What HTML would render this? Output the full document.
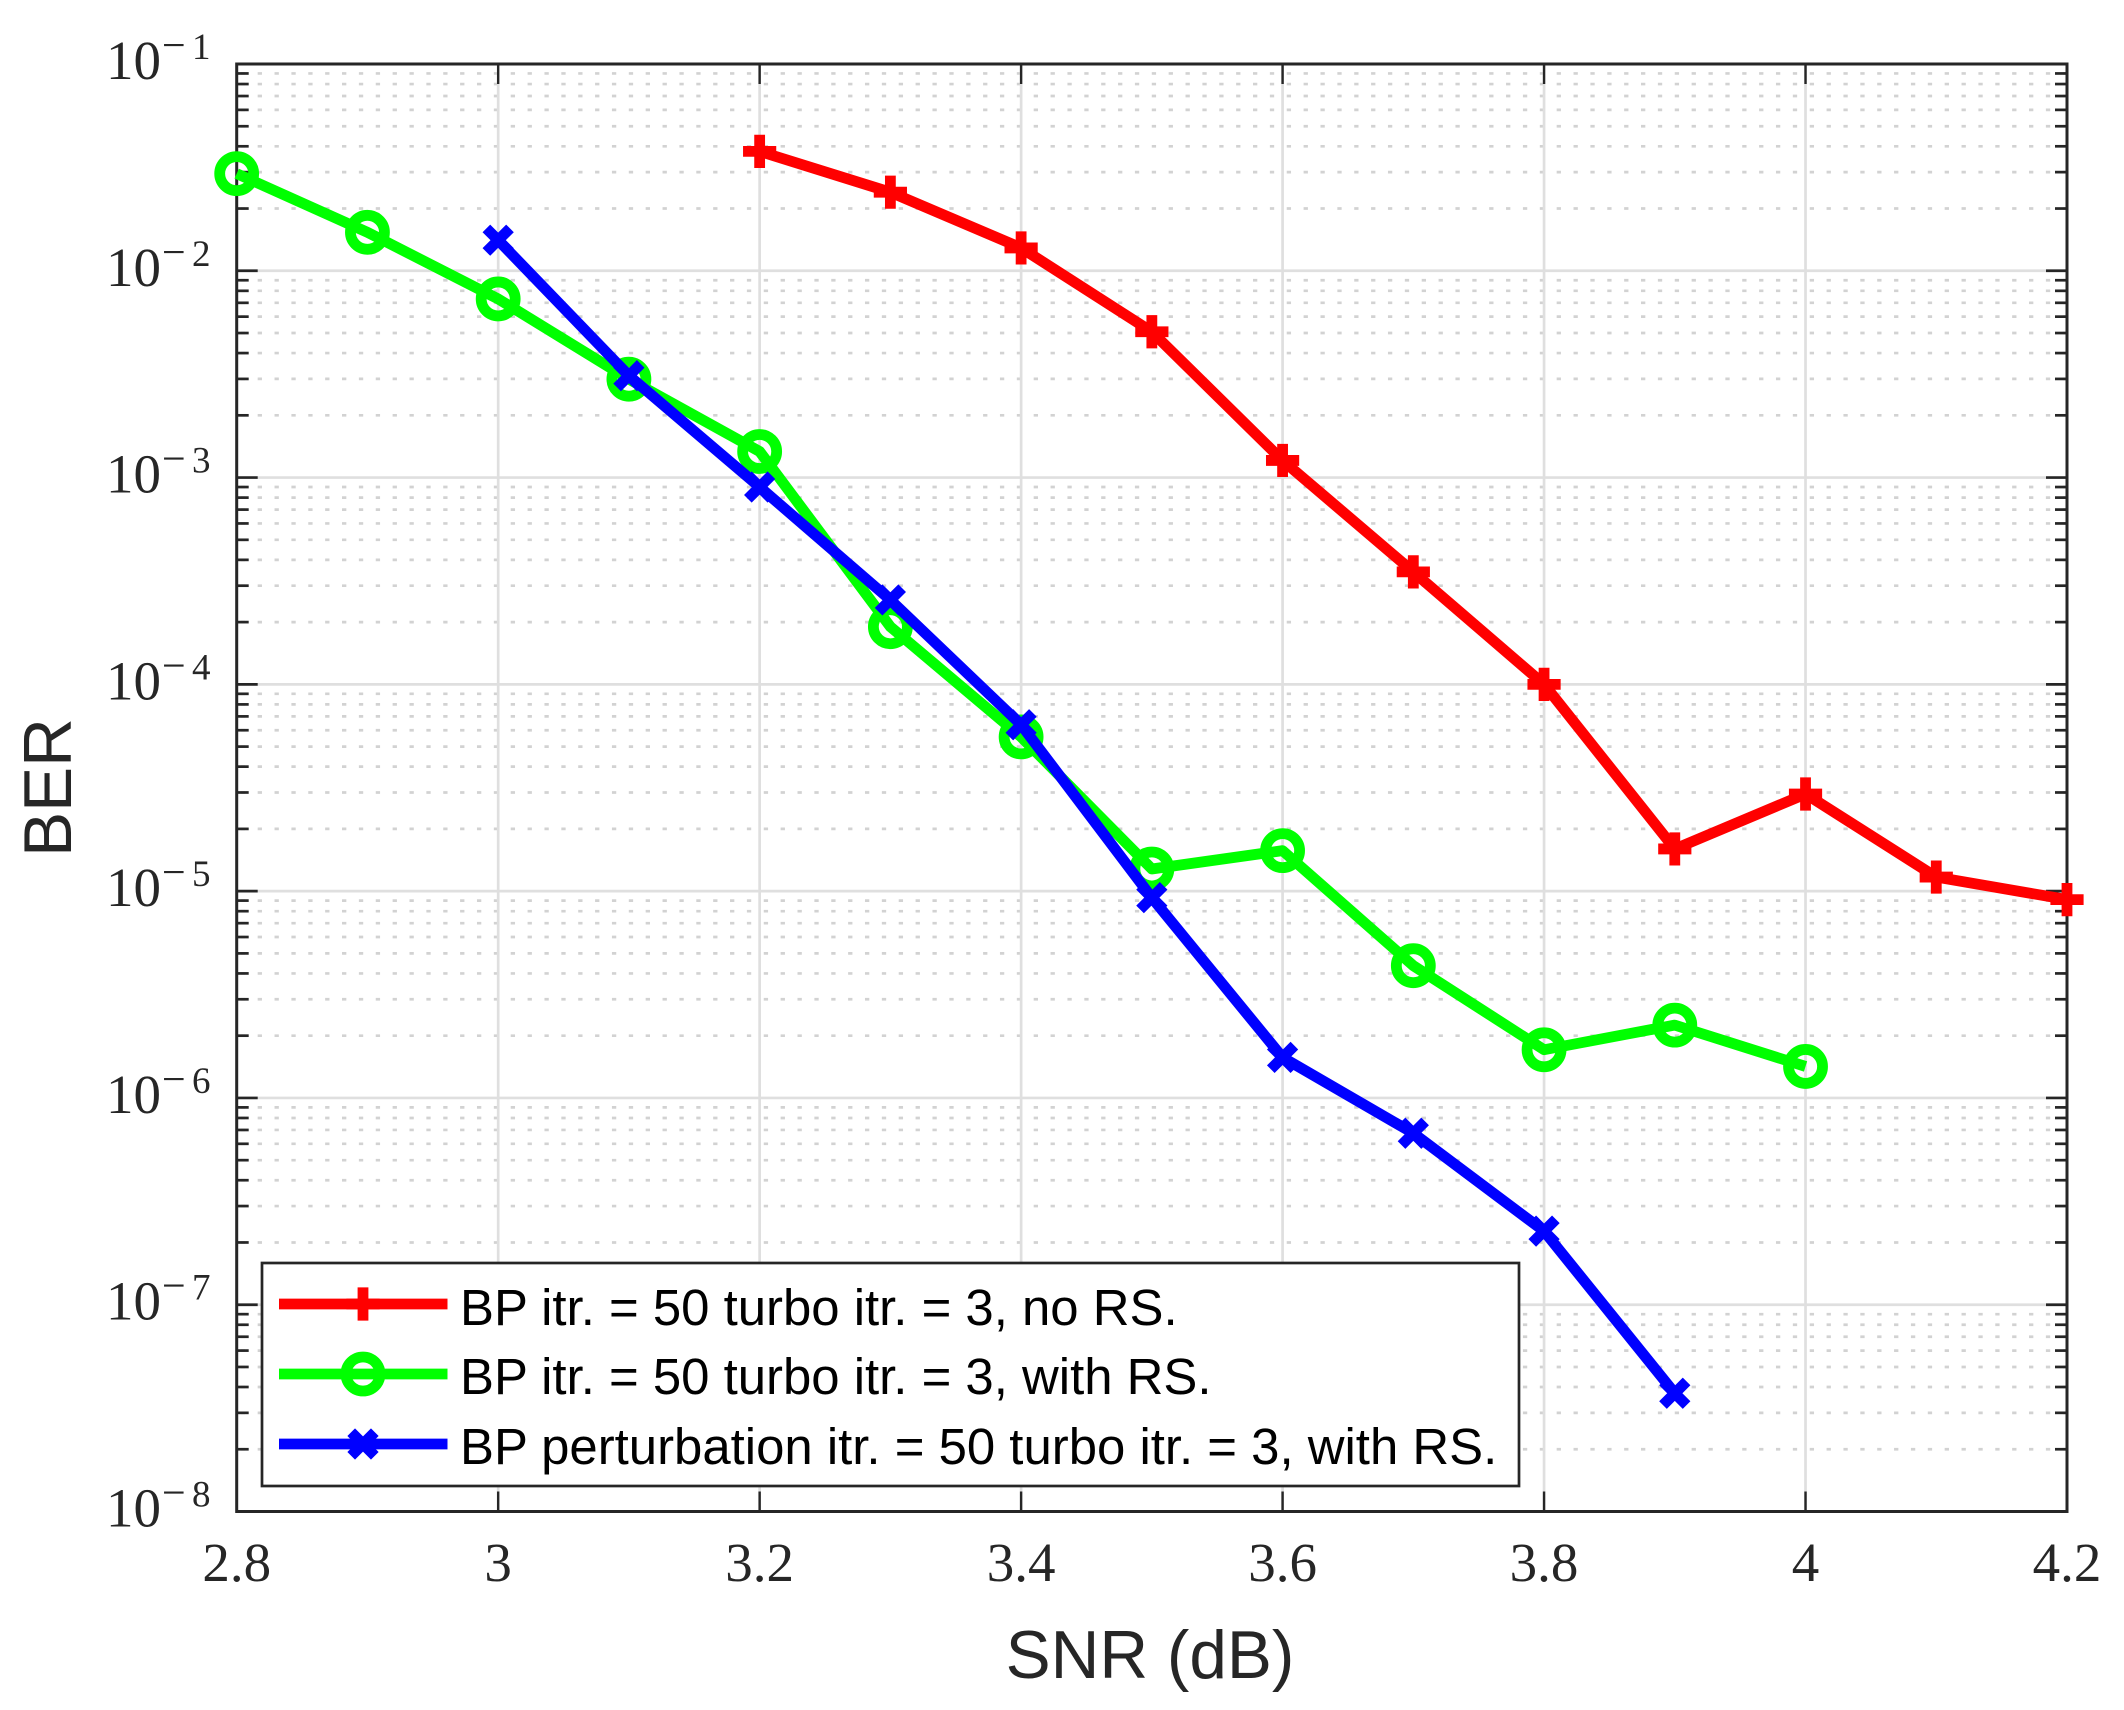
<!DOCTYPE html>
<html lang="en">
<head>
<meta charset="utf-8">
<title>BER vs SNR</title>
<style>
html,body{margin:0;padding:0;background:#fff;}
svg{display:block;}
text{white-space:pre;}
.tick{font-family:"Liberation Serif",serif;fill:#262626;}
.sans{font-family:"Liberation Sans",sans-serif;}
</style>
</head>
<body>
<svg id="chart" xmlns="http://www.w3.org/2000/svg" width="2124" height="1710" viewBox="0 0 2124 1710">
  <rect x="0" y="0" width="2124" height="1710" fill="#ffffff"/>
  <g id="grid"></g>
  <g id="axes"></g>
  <g id="series"></g>
  <text class="sans" x="1150" y="1678" font-size="67.5" text-anchor="middle" fill="#262626">SNR (dB)</text>
  <text class="sans" transform="translate(71,787.5) rotate(-90)" font-size="67.5" text-anchor="middle" fill="#262626">BER</text>
  <g id="legend">
    <rect x="262" y="1263" width="1257" height="223" fill="#ffffff" stroke="#262626" stroke-width="2.7"/>
    <g id="legend-keys"></g>
    <text class="sans" x="460" y="1325" font-size="50.9" fill="#000">BP itr. = 50 turbo itr. = 3, no RS.</text>
    <text class="sans" x="460" y="1394" font-size="50.9" fill="#000">BP itr. = 50 turbo itr. = 3, with RS.</text>
    <text class="sans" x="460" y="1464" font-size="50.9" fill="#000">BP perturbation itr. = 50 turbo itr. = 3, with RS.</text>
  </g>
</svg>
<script>
// ---- chart data ----
const xTicks = [2.8, 3, 3.2, 3.4, 3.6, 3.8, 4, 4.2];
const xTickLabels = ['2.8', '3', '3.2', '3.4', '3.6', '3.8', '4', '4.2'];
const yExponents = [-1, -2, -3, -4, -5, -6, -7, -8];
const yMinorFactors = [2, 3, 4, 5, 6, 7, 8, 9];

const snrRed = [3.2, 3.3, 3.4, 3.5, 3.6, 3.7, 3.8, 3.9, 4.0, 4.1, 4.2];
const berRed = [0.0378, 0.024, 0.0129, 0.00507, 0.00121, 3.5e-4, 1.0e-4, 1.6e-5, 2.95e-5, 1.17e-5, 9.1e-6];

const snrGreen = [2.8, 2.9, 3.0, 3.1, 3.2, 3.3, 3.4, 3.5, 3.6, 3.7, 3.8, 3.9, 4.0];
const berGreen = [0.0295, 0.01535, 0.00731, 0.00299, 0.001337, 1.9e-4, 5.57e-5, 1.28e-5, 1.57e-5, 4.36e-6, 1.71e-6, 2.25e-6, 1.42e-6];

const snrBlue = [3.0, 3.1, 3.2, 3.3, 3.4, 3.5, 3.6, 3.7, 3.8, 3.9];
const berBlue = [0.01406, 0.00311, 9.0e-4, 2.56e-4, 6.38e-5, 9.3e-6, 1.57e-6, 6.75e-7, 2.27e-7, 3.73e-8];

// ---- axis functions ----
const plotLeft = 236.7, plotRight = 2067, plotTop = 64, plotBottom = 1511.5;
const xMin = 2.8, xMax = 4.2, yMinExp = -8, yMaxExp = -1;
function xScale(v) { return plotLeft + (v - xMin) / (xMax - xMin) * (plotRight - plotLeft); }
function yScale(v) { return plotTop + (yMaxExp - Math.log10(v)) / (yMaxExp - yMinExp) * (plotBottom - plotTop); }

const NS = 'http://www.w3.org/2000/svg';
function make(tag, parent) {
  const el = document.createElementNS(NS, tag);
  parent.appendChild(el);
  return el;
}
function setLine(el, x1, y1, x2, y2, color, width) {
  el.setAttribute('x1', x1);
  el.setAttribute('y1', y1);
  el.setAttribute('x2', x2);
  el.setAttribute('y2', y2);
  el.setAttribute('stroke', color);
  el.setAttribute('stroke-width', width);
}

const gridG = document.getElementById('grid');
const axesG = document.getElementById('axes');
const seriesG = document.getElementById('series');
const keysG = document.getElementById('legend-keys');
const axisColor = '#262626';

// minor horizontal dotted grid
yExponents.forEach(function (e) {
  yMinorFactors.forEach(function (f) {
    const val = f * Math.pow(10, e);
    if (Math.log10(val) > yMaxExp) return;
    const y = yScale(val);
    const ln = make('line', gridG);
    
    
    setLine(ln, plotLeft, y, plotRight, y, '#d2d2d2', 2.7);
    ln.setAttribute('stroke-dasharray', '4.3 12.57');
    ln.setAttribute('stroke-dashoffset', '-4.1');
  });
});
// major grid
xTicks.forEach(function (t) {
  const x = xScale(t);
  const ln = make('line', gridG);
  
  
  setLine(ln, x, plotTop, x, plotBottom, '#dfdfdf', 2.7);
});
yExponents.forEach(function (e) {
  const y = yScale(Math.pow(10, e));
  const ln = make('line', gridG);
  
  
  setLine(ln, plotLeft, y, plotRight, y, '#dfdfdf', 2.7);
});

// x ticks and labels
xTicks.forEach(function (t, i) {
  const x = xScale(t);
  const a = make('line', axesG);
  
  
  setLine(a, x, plotBottom, x, plotBottom - 20, axisColor, 2.4);
  const b = make('line', axesG);
  
  
  setLine(b, x, plotTop, x, plotTop + 20, axisColor, 2.4);
  const lab = make('text', axesG);
  
  
  lab.setAttribute('class', 'tick');
  lab.setAttribute('x', x);
  lab.setAttribute('y', 1581);
  lab.setAttribute('font-size', '55');
  lab.setAttribute('text-anchor', 'middle');
  lab.textContent = xTickLabels[i];
});

// y ticks and labels
yExponents.forEach(function (e) {
  const y = yScale(Math.pow(10, e));
  const l = make('line', axesG);
  
  
  setLine(l, plotLeft, y, plotLeft + 21, y, axisColor, 2.7);
  const r = make('line', axesG);
  
  
  setLine(r, plotRight, y, plotRight - 21, y, axisColor, 2.7);

  const lab = make('text', axesG);
  
  
  lab.setAttribute('class', 'tick');
  lab.setAttribute('x', 106);
  lab.setAttribute('y', y + 15);
  lab.setAttribute('font-size', '55');
  lab.textContent = '10';
  const minus = make('text', axesG);
  
  
  minus.setAttribute('class', 'tick');
  minus.setAttribute('x', 162);
  minus.setAttribute('y', y - 5);
  minus.setAttribute('font-size', '42');
  minus.textContent = '\u2212';
  const digit = make('text', axesG);
  
  
  digit.setAttribute('class', 'tick');
  digit.setAttribute('x', 192);
  digit.setAttribute('y', y - 5);
  digit.setAttribute('font-size', '37');
  digit.textContent = String(Math.abs(e));

  yMinorFactors.forEach(function (f) {
    const val = f * Math.pow(10, e);
    if (Math.log10(val) > yMaxExp) return;
    const my = yScale(val);
    const ml = make('line', axesG);
    
    
    setLine(ml, plotLeft, my, plotLeft + 12, my, axisColor, 2.7);
    const mr = make('line', axesG);
    
    
    setLine(mr, plotRight, my, plotRight - 12, my, axisColor, 2.7);
  });
});

// axes box
const frame = make('rect', axesG);


frame.setAttribute('x', plotLeft);
frame.setAttribute('y', plotTop);
frame.setAttribute('width', plotRight - plotLeft);
frame.setAttribute('height', plotBottom - plotTop);
frame.setAttribute('fill', 'none');
frame.setAttribute('stroke', axisColor);
frame.setAttribute('stroke-width', '3');

// marker drawing
function drawPlus(parent, cx, cy, color) {
  const p = make('path', parent);
  
  
  p.setAttribute('d', 'M' + (cx - 16.6) + ' ' + cy + 'H' + (cx + 16.6) + 'M' + cx + ' ' + (cy - 16.6) + 'V' + (cy + 16.6));
  p.setAttribute('stroke', color);
  p.setAttribute('stroke-width', '10.8');
  p.setAttribute('fill', 'none');
}
function drawCircle(parent, cx, cy, color) {
  const c = make('circle', parent);
  
  
  c.setAttribute('cx', cx);
  c.setAttribute('cy', cy);
  c.setAttribute('r', '17');
  c.setAttribute('stroke', color);
  c.setAttribute('stroke-width', '10.8');
  c.setAttribute('fill', 'none');
}
function drawCross(parent, cx, cy, color) {
  const a = 11.8;
  const p = make('path', parent);
  
  
  p.setAttribute('d', 'M' + (cx - a) + ' ' + (cy - a) + 'L' + (cx + a) + ' ' + (cy + a) + 'M' + (cx - a) + ' ' + (cy + a) + 'L' + (cx + a) + ' ' + (cy - a));
  p.setAttribute('stroke', color);
  p.setAttribute('stroke-width', '10.8');
  p.setAttribute('fill', 'none');
}

function drawSeries(xs, ys, color, marker, name) {
  const g = make('g', seriesG);
  
  
  const poly = make('polyline', g);
  
  
  const pts = xs.map(function (x, i) { return xScale(x).toFixed(2) + ',' + yScale(ys[i]).toFixed(2); });
  poly.setAttribute('points', pts.join(' '));
  poly.setAttribute('fill', 'none');
  poly.setAttribute('stroke', color);
  poly.setAttribute('stroke-width', '10.8');
  poly.setAttribute('stroke-linejoin', 'round');
  xs.forEach(function (x, i) {
    marker(g, xScale(x), yScale(ys[i]), color);
  });
}
drawSeries(snrRed, berRed, '#ff0000', drawPlus, 'series-red-no-rs');
drawSeries(snrGreen, berGreen, '#00ff00', drawCircle, 'series-green-with-rs');
drawSeries(snrBlue, berBlue, '#0000ff', drawCross, 'series-blue-perturbation');

// legend keys
function legendKey(y, color, marker, name) {
  const g = make('g', keysG);
  
  
  const ln = make('line', g);
  
  
  setLine(ln, 279, y, 447.5, y, color, 10.8);
  marker(g, 363, y, color);
}
legendKey(1304, '#ff0000', drawPlus, 'legend-key-red');
legendKey(1374, '#00ff00', drawCircle, 'legend-key-green');
legendKey(1444, '#0000ff', drawCross, 'legend-key-blue');
</script>
</body>
</html>
